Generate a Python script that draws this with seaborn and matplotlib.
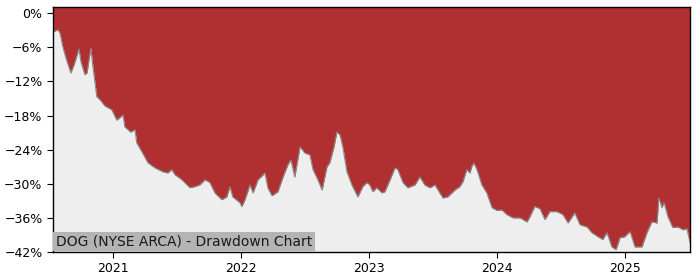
import matplotlib
matplotlib.use("Agg")
import matplotlib.pyplot as plt
import matplotlib.dates as mdates
from matplotlib.ticker import FuncFormatter, MultipleLocator
import numpy as np
import pandas as pd
import seaborn as sns

dates = [
    "2020-07-14", "2020-07-17", "2020-07-28", "2020-08-03", "2020-08-11", "2020-08-20",
    "2020-09-03", "2020-09-12", "2020-09-26", "2020-10-02", "2020-10-13", "2020-10-19",
    "2020-10-30", "2020-11-05", "2020-11-16", "2020-11-25", "2020-12-09", "2020-12-29",
    "2021-01-12", "2021-01-30", "2021-02-04", "2021-02-21", "2021-03-05", "2021-03-10",
    "2021-03-25", "2021-04-11", "2021-05-01", "2021-05-24", "2021-06-07", "2021-06-18",
    "2021-06-27", "2021-07-17", "2021-08-09", "2021-08-23", "2021-09-06", "2021-09-21",
    "2021-10-05", "2021-10-19", "2021-11-08", "2021-11-22", "2021-12-01", "2021-12-09",
    "2021-12-29", "2022-01-04", "2022-01-13", "2022-01-27", "2022-02-05", "2022-02-19",
    "2022-03-11", "2022-03-19", "2022-03-31", "2022-04-17", "2022-05-01", "2022-05-15",
    "2022-05-24", "2022-06-04", "2022-06-19", "2022-07-03", "2022-07-17", "2022-07-26",
    "2022-08-09", "2022-08-21", "2022-09-04", "2022-09-12", "2022-09-24", "2022-10-02",
    "2022-10-11", "2022-10-19", "2022-10-31", "2022-11-14", "2022-12-01", "2022-12-15",
    "2022-12-27", "2023-01-04", "2023-01-13", "2023-01-24", "2023-02-08", "2023-02-16",
    "2023-03-03", "2023-03-17", "2023-03-25", "2023-04-09", "2023-04-23", "2023-05-13",
    "2023-05-27", "2023-06-10", "2023-06-25", "2023-07-09", "2023-07-18", "2023-08-01",
    "2023-08-15", "2023-09-04", "2023-09-18", "2023-09-27", "2023-10-08", "2023-10-17",
    "2023-10-22", "2023-10-28", "2023-11-06", "2023-11-20", "2023-12-04", "2023-12-19",
    "2024-01-02", "2024-01-16", "2024-01-30", "2024-02-17", "2024-03-08", "2024-03-28",
    "2024-04-05", "2024-04-19", "2024-05-04", "2024-05-18", "2024-06-01", "2024-06-21",
    "2024-07-08", "2024-07-23", "2024-08-11", "2024-08-26", "2024-09-15", "2024-09-29",
    "2024-10-16", "2024-10-30", "2024-11-11", "2024-11-25", "2024-12-07", "2024-12-18",
    "2025-01-01", "2025-01-16", "2025-01-30", "2025-02-19", "2025-03-05", "2025-03-19",
    "2025-04-03", "2025-04-08", "2025-04-17", "2025-04-23", "2025-05-04", "2025-05-18",
    "2025-06-02", "2025-06-16", "2025-06-27", "2025-07-06",
]
drawdown = [
    -3.3, -3.2, -2.9, -3.5, -5.9, -7.9,
    -10.5, -9.1, -6.3, -8.6, -10.8, -10.5,
    -6.1, -9.4, -14.7, -15.2, -16.3, -17.0,
    -18.8, -17.9, -20.0, -20.9, -20.5, -22.8,
    -24.4, -26.3, -27.2, -27.9, -28.1, -27.5,
    -28.4, -29.3, -30.7, -30.5, -30.2, -29.3,
    -29.8, -31.6, -32.8, -32.3, -30.5, -32.3,
    -33.3, -34.0, -32.8, -30.2, -31.6, -29.3,
    -28.1, -30.7, -32.1, -31.4, -28.9, -26.7,
    -25.8, -28.8, -23.5, -24.6, -24.9, -27.5,
    -29.3, -31.1, -27.0, -26.3, -23.5, -20.9,
    -21.4, -23.5, -27.9, -30.2, -32.3, -30.5,
    -29.8, -30.2, -31.4, -30.7, -31.6, -31.4,
    -29.3, -27.2, -27.5, -29.8, -30.7, -30.2,
    -28.8, -30.2, -30.7, -30.2, -31.1, -32.5,
    -32.3, -31.1, -30.5, -29.6, -27.5, -28.1,
    -27.0, -26.3, -27.5, -30.2, -31.6, -34.2,
    -34.7, -34.6, -35.4, -36.0, -36.0, -36.7,
    -35.8, -34.0, -34.4, -36.3, -34.9, -34.9,
    -35.4, -36.9, -35.1, -37.2, -37.6, -38.6,
    -39.3, -39.8, -38.6, -41.1, -41.6, -39.5,
    -39.3, -38.4, -41.1, -41.1, -38.6, -36.7,
    -36.9, -32.5, -34.2, -33.3, -35.8, -37.7,
    -37.6, -38.1, -37.9, -40.3,
]
title_text = "DOG (NYSE ARCA) - Drawdown Chart"

df = pd.DataFrame({"date": pd.to_datetime(dates), "drawdown": drawdown})

sns.set_style("ticks")
plt.rcParams["font.family"] = ["DejaVu Sans"]

fig = plt.figure(figsize=(7, 2.8), dpi=100)
ax = fig.add_axes([0.0757, 0.1, 0.91, 0.875])
ax.set_facecolor("#eeeeee")

ax.fill_between(df["date"], df["drawdown"], 5, color="#b03031", linewidth=0)
sns.lineplot(data=df, x="date", y="drawdown", ax=ax, color="#888888", linewidth=0.8)

ax.set_xlim(df["date"].iloc[0], df["date"].iloc[-1])
ax.set_ylim(-42, 1.1)
ax.yaxis.set_major_locator(MultipleLocator(6))
ax.yaxis.set_major_formatter(FuncFormatter(lambda v, p: f"{int(round(v))}%".replace("-", "\u2212")))
ax.xaxis.set_major_locator(mdates.YearLocator())
ax.xaxis.set_major_formatter(mdates.DateFormatter("%Y"))
ax.set_xlabel("")
ax.set_ylabel("")
ax.tick_params(labelsize=9, colors="black", length=4)
for s in ax.spines.values():
    s.set_visible(True)
    s.set_color("black")
    s.set_linewidth(1)

ax.text(0.0045, 0.014, title_text, transform=ax.transAxes, fontsize=10, ha="left", va="bottom",
        color="#1a1a1a",
        bbox=dict(boxstyle="square,pad=0.2", facecolor="#b4b4b4", edgecolor="none"))

fig.savefig("out.png", dpi=100)
